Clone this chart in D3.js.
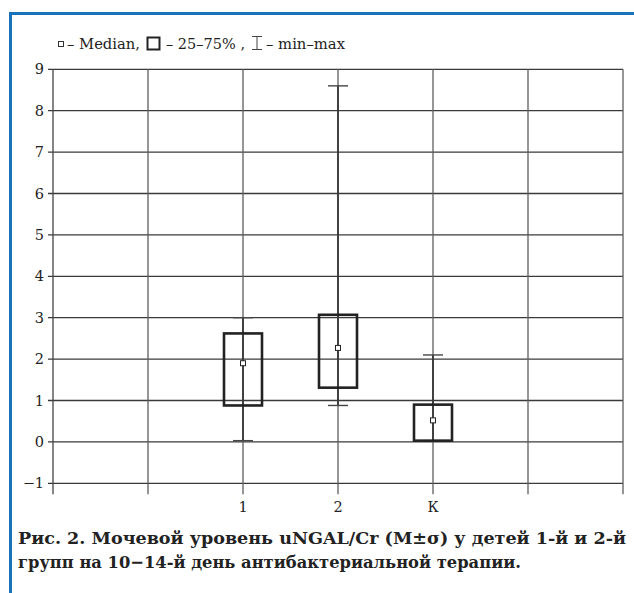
<!DOCTYPE html>
<html>
<head>
<meta charset="utf-8">
<script src="https://cdn.jsdelivr.net/npm/d3@7"></script>
<style>
body { margin: 0; background: #fff; }
svg text { font-family: "DejaVu Serif", serif; fill: #222; }
</style>
</head>
<body>
<div class="chart"></div>
<script>
var groups = ["1", "2", "К"];
var minV = [0.03, 0.88, 0.03];
var q1V = [0.88, 1.31, 0.03];
var medV = [1.9, 2.27, 0.52];
var q3V = [2.62, 3.07, 0.9];
var maxV = [3.0, 8.6, 2.1];
var yTicks = [-1, 0, 1, 2, 3, 4, 5, 6, 7, 8, 9];
var slots = [-2, -1, 0, 1, 2, 3, 4]; // vertical grid positions, groups sit at 0,1,2

var W = 634, H = 593;
var x = d3.scaleLinear().domain([-2, 4]).range([53, 623]);
var y = d3.scaleLinear().domain([-1, 9]).range([483.3, 69.3]);

var svg = d3.select(".chart").append("svg")
	.attr("width", W)
	.attr("height", H);

// blue frame (top + left only)
svg.append("path").attr("d", "M10.5,593 V13.5 H634")
	.attr("fill", "none").attr("stroke", "#1a72b8").attr("stroke-width", 3);

// horizontal grid + y labels
svg.selectAll(".hgrid").data(yTicks).enter().append("line")
	.attr("class", "hgrid")
	.attr("x1", 48).attr("x2", x(4))
	.attr("y1", function(d) { return y(d); }).attr("y2", function(d) { return y(d); })
	.attr("stroke", "#3a3a3a").attr("stroke-width", 1.3);
svg.selectAll(".ylab").data(yTicks).enter().append("text")
	.attr("class", "ylab")
	.attr("x", 44).attr("y", function(d) { return y(d) + 5; })
	.attr("text-anchor", "end").style("font-size", "14.5px")
	.text(function(d) { return d < 0 ? "\u2212" + Math.abs(d) : d; });

// vertical grid
svg.selectAll(".vgrid").data(slots).enter().append("line")
	.attr("class", "vgrid")
	.attr("x1", function(d) { return x(d); }).attr("x2", function(d) { return x(d); })
	.attr("y1", y(9)).attr("y2", y(-1) + 11)
	.attr("stroke", function(d) { return d == -2 ? "#444" : "#5e5e5e"; }).attr("stroke-width", 1.3);

// x labels
svg.selectAll(".xlab").data(groups).enter().append("text")
	.attr("class", "xlab")
	.attr("x", function(d, i) { return x(i); }).attr("y", 512)
	.attr("text-anchor", "middle").style("font-size", "14.5px")
	.text(function(d) { return d; });

// whiskers
var g = svg.selectAll(".box").data(groups).enter().append("g").attr("class", "box");
g.append("line")
	.attr("x1", function(d, i) { return x(i); }).attr("x2", function(d, i) { return x(i); })
	.attr("y1", function(d, i) { return y(minV[i]); }).attr("y2", function(d, i) { return y(maxV[i]); })
	.attr("stroke", "#333").attr("stroke-width", 1.7);
g.append("line")
	.attr("x1", function(d, i) { return x(i) - 10; }).attr("x2", function(d, i) { return x(i) + 10; })
	.attr("y1", function(d, i) { return y(maxV[i]); }).attr("y2", function(d, i) { return y(maxV[i]); })
	.attr("stroke", "#444").attr("stroke-width", 1.4);
g.append("line")
	.attr("x1", function(d, i) { return x(i) - 10; }).attr("x2", function(d, i) { return x(i) + 10; })
	.attr("y1", function(d, i) { return y(minV[i]); }).attr("y2", function(d, i) { return y(minV[i]); })
	.attr("stroke", "#444").attr("stroke-width", 1.4);

// boxes
g.append("rect")
	.attr("x", function(d, i) { return x(i) - 19; }).attr("width", 38)
	.attr("y", function(d, i) { return y(q3V[i]); })
	.attr("height", function(d, i) { return y(q1V[i]) - y(q3V[i]); })
	.attr("fill", "none").attr("stroke", "#222").attr("stroke-width", 2.6);

// medians
g.append("rect")
	.attr("x", function(d, i) { return x(i) - 2.5; }).attr("width", 5)
	.attr("y", function(d, i) { return y(medV[i]) - 2.5; }).attr("height", 5)
	.attr("fill", "#fff").attr("stroke", "#222").attr("stroke-width", 1);

// legend
var leg = svg.append("g");
leg.append("rect").attr("x", 58.5).attr("y", 41.5).attr("width", 5).attr("height", 5)
	.attr("fill", "none").attr("stroke", "#333").attr("stroke-width", 1);
leg.append("text").attr("x", 67).attr("y", 49).attr("textLength", 73).attr("lengthAdjust", "spacingAndGlyphs")
	.style("font-size", "14px").text("\u2013 Median,");
leg.append("rect").attr("x", 147.5).attr("y", 37.5).attr("width", 12).attr("height", 12)
	.attr("fill", "none").attr("stroke", "#222").attr("stroke-width", 2);
leg.append("text").attr("x", 166).attr("y", 49).attr("textLength", 79).attr("lengthAdjust", "spacingAndGlyphs")
	.style("font-size", "14px").text("\u2013 25\u201375% ,");
leg.append("path").attr("d", "M252,36.5 H262 M257,36.5 V49.5 M252,49.5 H262")
	.attr("fill", "none").attr("stroke", "#444").attr("stroke-width", 1);
leg.append("text").attr("x", 266).attr("y", 49).attr("textLength", 79).attr("lengthAdjust", "spacingAndGlyphs")
	.style("font-size", "14px").text("\u2013 min\u2013max");

// caption
svg.append("text").attr("x", 18).attr("y", 544)
	.attr("textLength", 608).attr("lengthAdjust", "spacingAndGlyphs")
	.style("font-size", "17.5px").style("font-weight", "bold")
	.text("Рис. 2. Мочевой уровень uNGAL/Cr (M±σ) у детей 1-й и 2-й");
svg.append("text").attr("x", 18).attr("y", 568)
	.attr("textLength", 503).attr("lengthAdjust", "spacingAndGlyphs")
	.style("font-size", "17.5px").style("font-weight", "bold")
	.text("групп на 10\u221214-й день антибактериальной терапии.");
</script>
</body>
</html>
